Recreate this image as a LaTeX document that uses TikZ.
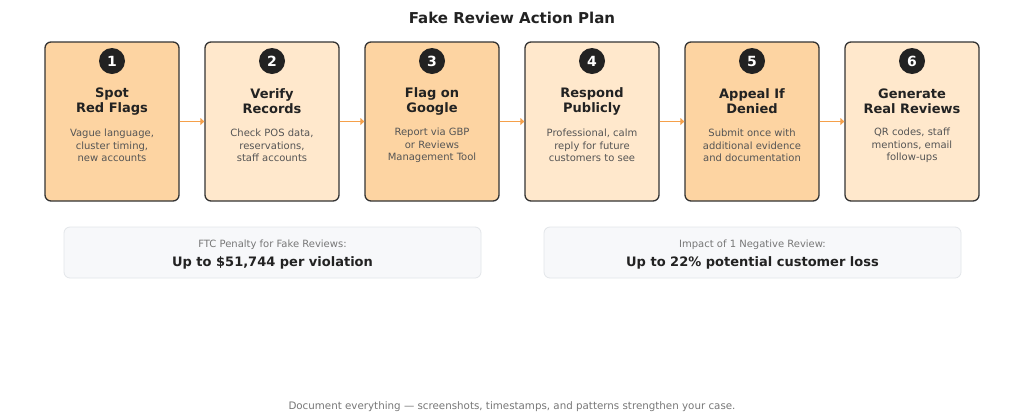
\documentclass[tikz,border=0pt]{standalone}
\usepackage{fontspec}
\setmainfont{DejaVu Sans}
\usetikzlibrary{arrows.meta}
\definecolor{peachA}{HTML}{FDD4A2}
\definecolor{peachB}{HTML}{FFE8CC}
\definecolor{edge}{HTML}{333333}
\definecolor{ink}{HTML}{222222}
\definecolor{desc}{HTML}{555555}
\definecolor{soft}{HTML}{777777}
\definecolor{arr}{HTML}{F5A04A}
\definecolor{panel}{HTML}{F7F8FA}
\definecolor{paneledge}{HTML}{E3E6EA}
\tikzset{
  stepbox/.style={draw=edge, line width=1.3pt, rounded corners=6pt, minimum width=134pt, minimum height=159pt, inner sep=0pt},
  numdot/.style={circle, fill=ink, minimum size=26pt, inner sep=0pt, text=white, font=\fontsize{14}{14}\selectfont\bfseries},
  steptitle/.style={align=center, text=ink, font=\fontsize{13}{15}\selectfont\bfseries},
  stepdesc/.style={align=center, text=desc, font=\fontsize{10}{12.4}\selectfont},
  flow/.style={draw=arr, line width=1.6pt, -{Triangle[length=4pt,width=7pt]}},
  infobox/.style={draw=paneledge, fill=panel, line width=0.8pt, rounded corners=6pt, minimum width=417pt, minimum height=51pt, inner sep=0pt},
  infolabel/.style={text=soft, font=\fontsize{10}{12}\selectfont},
  infovalue/.style={text=ink, font=\fontsize{13}{15}\selectfont\bfseries},
}
\begin{document}
\begin{tikzpicture}[x=1pt,y=-1pt]
\useasboundingbox[fill=white] (0,0) rectangle (1024,416);
\node[text=ink, font=\fontsize{15}{18}\selectfont\bfseries] (title) at (512,18) {Fake Review Action Plan};

\foreach \i/\x/\col/\ttl/\dsc in {
 1/112/peachA/{Spot\\Red Flags}/{Vague language,\\cluster timing,\\new accounts},
 2/272/peachB/{Verify\\Records}/{Check POS data,\\reservations,\\staff accounts},
 3/432/peachA/{Flag on\\Google}/{Report via GBP\\or Reviews\\Management Tool},
 4/592/peachB/{Respond\\Publicly}/{Professional, calm\\reply for future\\customers to see},
 5/752/peachA/{Appeal If\\Denied}/{Submit once with\\additional evidence\\and documentation},
 6/912/peachB/{Generate\\Real Reviews}/{QR codes, staff\\mentions, email\\follow-ups}}{
  \node[stepbox, fill=\col] (b\i) at (\x,121.5) {};
  \node[numdot] (n\i) at (\x,61) {\i};
  \node[steptitle] (t\i) at (\x,101.5) {\ttl};
  \node[stepdesc] (d\i) at (\x,145.5) {\dsc};
}
\foreach \a/\b in {1/2,2/3,3/4,4/5,5/6}{
  \draw[flow] (b\a.east) -- (b\b.west);
}

\node[infobox] (ftc) at (272.5,252.5) {};
\node[infolabel] (ftcl) at (272.5,244.5) {FTC Penalty for Fake Reviews:};
\node[infovalue] (ftcv) at (272.5,262.5) {Up to \$51,744 per violation};

\node[infobox] (imp) at (752.5,252.5) {};
\node[infolabel] (impl) at (752.5,244.5) {Impact of 1 Negative Review:};
\node[infovalue] (impv) at (752.5,262.5) {Up to 22\% potential customer loss};

\node[infolabel, font=\fontsize{10.3}{12}\selectfont] (foot) at (512,406.5) {Document everything — screenshots, timestamps, and patterns strengthen your case.};
\end{tikzpicture}
\end{document}
